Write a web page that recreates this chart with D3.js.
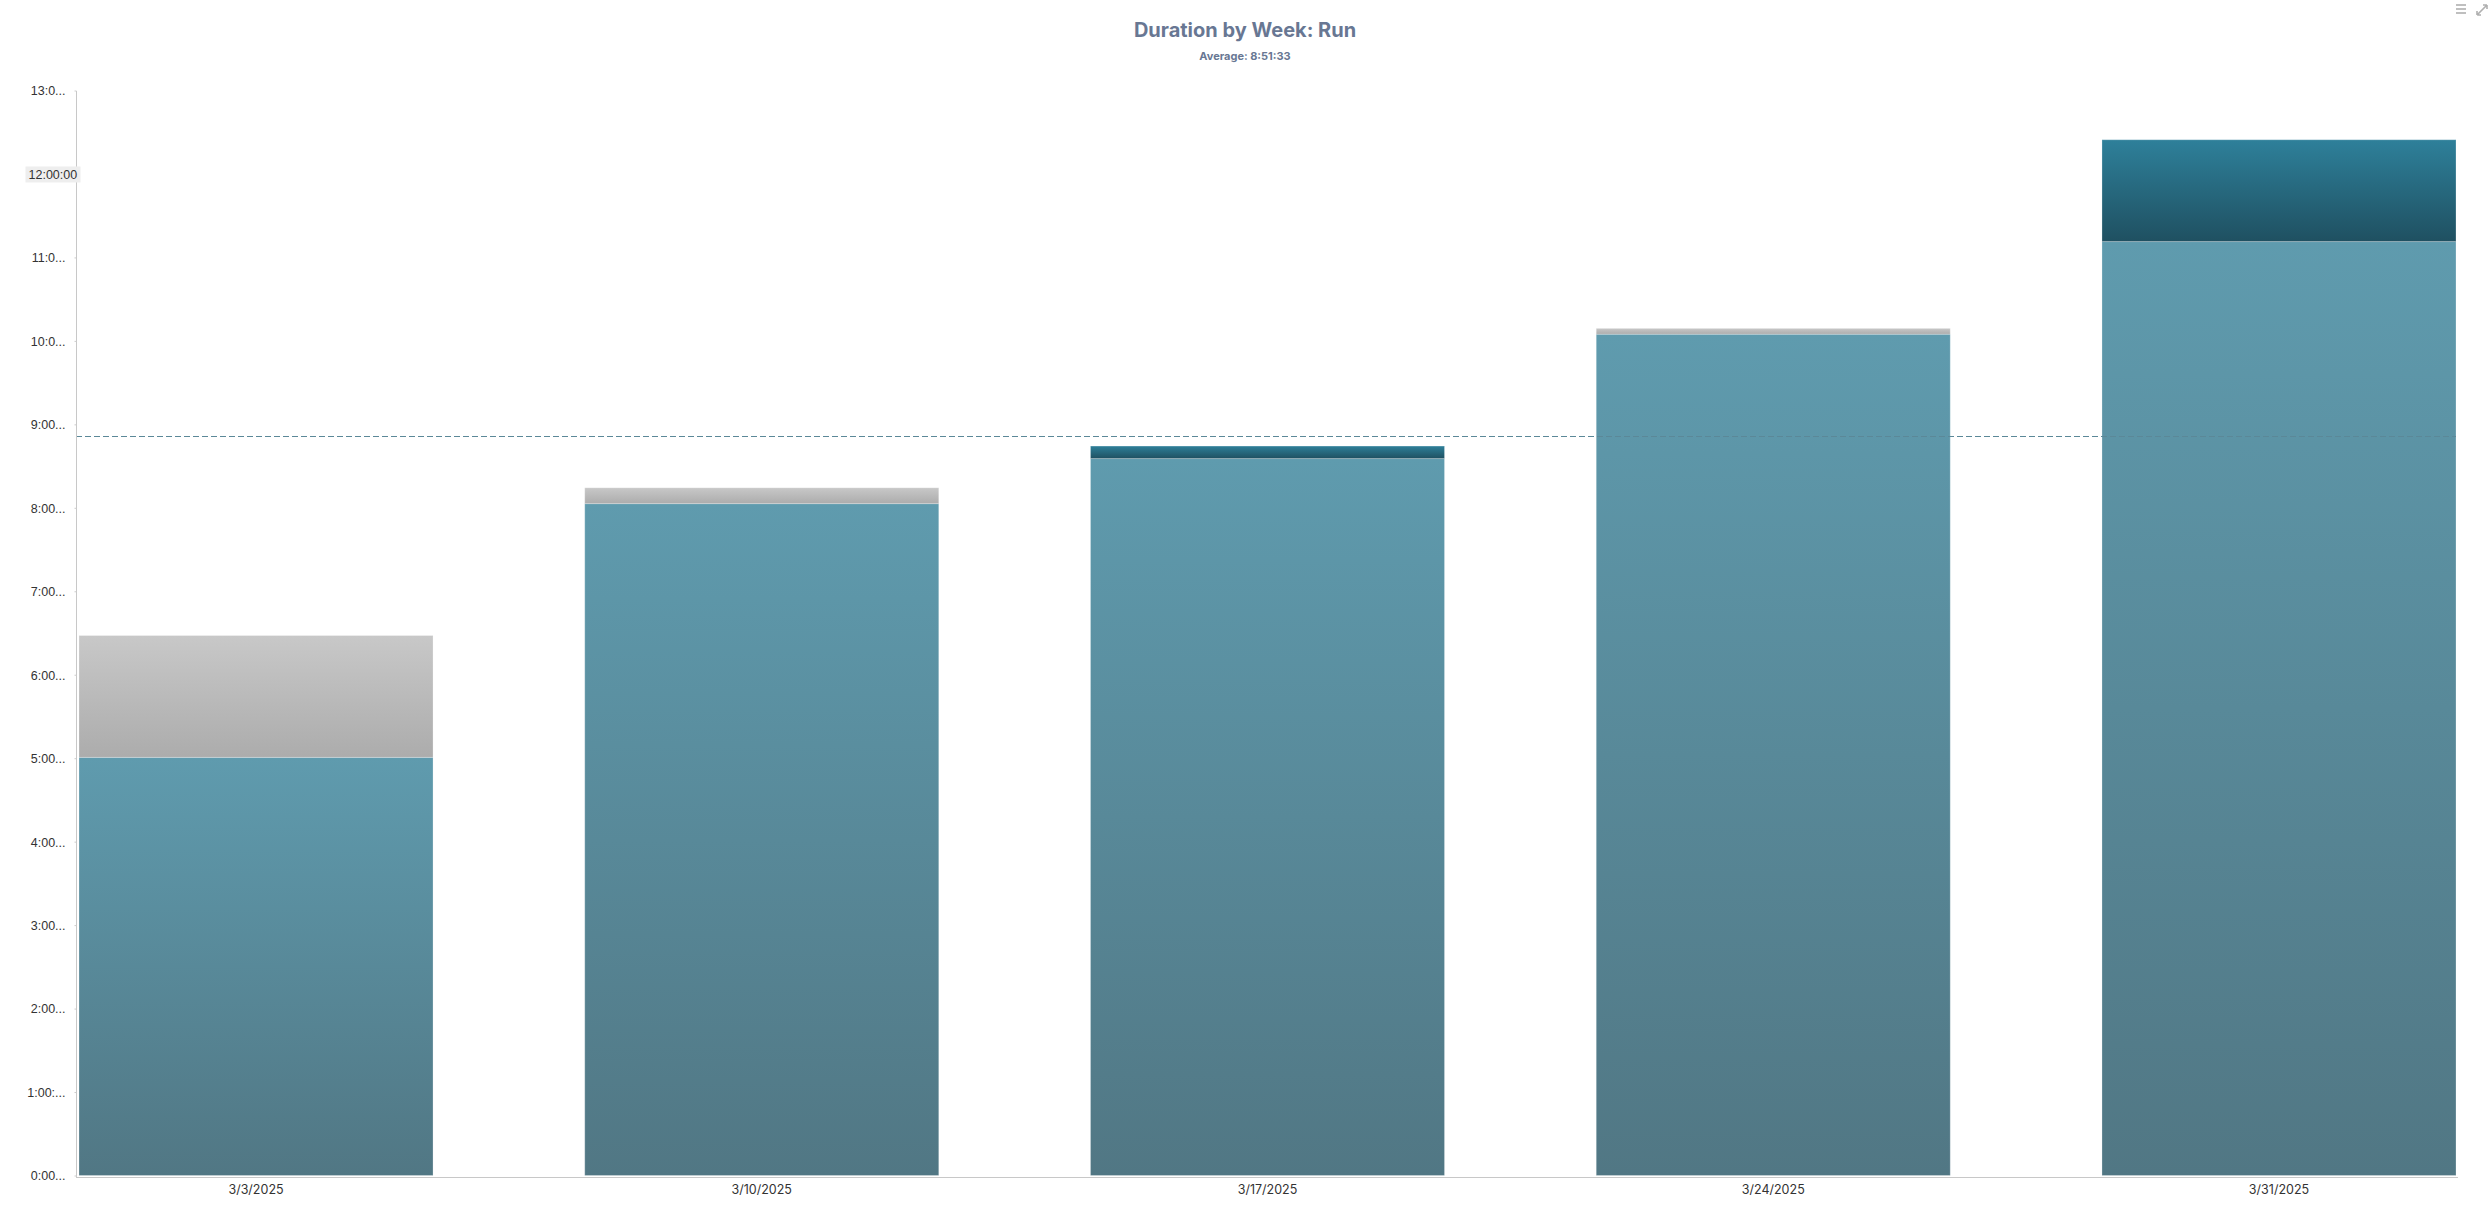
<!DOCTYPE html>
<html><head><meta charset="utf-8">
<script src="https://cdn.jsdelivr.net/npm/d3@7"></script>
<style>
html,body{margin:0;padding:0;background:#fff;}
svg{display:block;font-family:Inter,"Noto Sans",sans-serif;}
</style>
</head><body>
<svg id="chart" width="2490" height="1214"></svg>
<script>
// ---- data ----
const weeks = ["3/3/2025", "3/10/2025", "3/17/2025", "3/24/2025", "3/31/2025"];
const actualHours = [5.01, 8.05, 8.74, 10.08, 12.41];
const plannedHours = [6.47, 8.24, 8.59, 10.15, 11.19];
const averageHours = 8 + 51 / 60 + 33 / 3600; // 8:51:33
const averageLabel = "Average: 8:51:33";
const titleText = "Duration by Week: Run";
const yTickValues = [0, 1, 2, 3, 4, 5, 6, 7, 8, 9, 10, 11, 12, 13];
const yTickLabels = ["0:00...", "1:00:...", "2:00...", "3:00...", "4:00...", "5:00...", "6:00...",
  "7:00...", "8:00...", "9:00...", "10:0...", "11:0...", "12:00:00", "13:0..."];
const hoveredTick = 12;

// ---- layout ----
const W = 2490, H = 1214;
const plot = {left: 76, right: 2458, top: 91, bottom: 1176};
const svg = d3.select("#chart");

const x = d3.scaleBand().domain(weeks).range([79, 2456]).paddingInner(0.3).paddingOuter(0);
const y = d3.scaleLinear().domain([0, 13]).range([1175.5, 90.5]);

// gradients
const defs = svg.append("defs");
function grad(id, c1, c2) {
  const g = defs.append("linearGradient").attr("id", id)
    .attr("x1", 0).attr("y1", 0).attr("x2", 0).attr("y2", 1);
  g.append("stop").attr("offset", "0%").attr("stop-color", c1);
  g.append("stop").attr("offset", "100%").attr("stop-color", c2);
}
grad("gTeal", "#5f9bae", "#517784");
grad("gGray", "#c8c8c8", "#acacac");
grad("gDark", "#2e809a", "#1f5061");

// title
svg.append("text").attr("x", W / 2).attr("y", 37).attr("text-anchor", "middle")
  .attr("font-size", 20).attr("font-weight", 700).attr("fill", "#687793").text(titleText);
svg.append("text").attr("x", W / 2).attr("y", 60).attr("text-anchor", "middle")
  .attr("font-size", 11).attr("font-weight", 700).attr("fill", "#687793").text(averageLabel);

// segments
const segs = [];
weeks.forEach((w, i) => {
  const a = actualHours[i], p = plannedHours[i];
  const base = Math.min(a, p);
  segs.push({w, y0: 0, y1: base, fill: "url(#gTeal)"});
  if (p > a) segs.push({w, y0: a, y1: p, fill: "url(#gGray)"});
  else if (a > p) segs.push({w, y0: p, y1: a, fill: "url(#gDark)"});
});
svg.append("g").selectAll("rect").data(segs).join("rect")
  .attr("x", d => x(d.w))
  .attr("width", x.bandwidth())
  .attr("y", d => y(d.y1))
  .attr("height", d => y(d.y0) - y(d.y1))
  .attr("fill", d => d.fill)
  .attr("stroke", "rgba(255,255,255,0.25)")
  .attr("stroke-width", 1);

// average line
svg.append("line").attr("x1", plot.left).attr("x2", 2456)
  .attr("y1", Math.round(y(averageHours)) + 0.5).attr("y2", Math.round(y(averageHours)) + 0.5)
  .attr("stroke", "#5b8898").attr("stroke-width", 1).attr("stroke-dasharray", "6,3");

// y axis
const yAxis = d3.axisLeft(y).tickValues(yTickValues).tickSize(2).tickFormat(() => "");
const gy = svg.append("g").attr("transform", `translate(${plot.left + 0.5},0)`).call(yAxis);
gy.select(".domain").attr("stroke", "#c8c8c8").attr("d", `M0,${plot.top}V${plot.bottom + 1}`);
gy.selectAll(".tick line").attr("stroke", "#cccccc");
gy.selectAll(".tick").each(function (v, i) {
  const t = d3.select(this);
  if (v === hoveredTick) {
    t.append("rect").attr("x", 25 - plot.left).attr("y", -8).attr("width", 55).attr("height", 16)
      .attr("fill", "#eeeeee");
    t.append("text").attr("x", 28 - plot.left).attr("dy", "0.35em").attr("text-anchor", "start")
      .attr("font-size", 12.5).attr("fill", "#333").text(yTickLabels[i]);
  } else {
    t.append("text").attr("x", 65 - plot.left).attr("dy", "0.35em").attr("text-anchor", "end")
      .attr("font-size", 12.5).attr("fill", "#333").text(yTickLabels[i]);
  }
});

// x axis
const xAxis = d3.axisBottom(x).tickSize(0).tickPadding(0);
const gx = svg.append("g").attr("transform", `translate(0,${plot.bottom + 1.5})`).call(xAxis);
gx.select(".domain").attr("stroke", "#c8c8c8").attr("d", `M${plot.left},0H${plot.right}`);
gx.selectAll(".tick text").attr("y", 8).attr("font-size", 12.5).attr("fill", "#333")
  .attr("font-family", "Inter, sans-serif");

// top-right icons
const ic = svg.append("g").attr("fill", "none").attr("stroke", "#b0b0b0").attr("stroke-width", 1.6);
[5, 9, 13].forEach(yy => ic.append("line").attr("x1", 2456).attr("x2", 2466).attr("y1", yy).attr("y2", yy));
ic.append("path").attr("d", "M2477,15 L2487,5 M2477,15 v-4 M2477,15 h4 M2487,5 v4 M2487,5 h-4");
</script>
</body></html>
